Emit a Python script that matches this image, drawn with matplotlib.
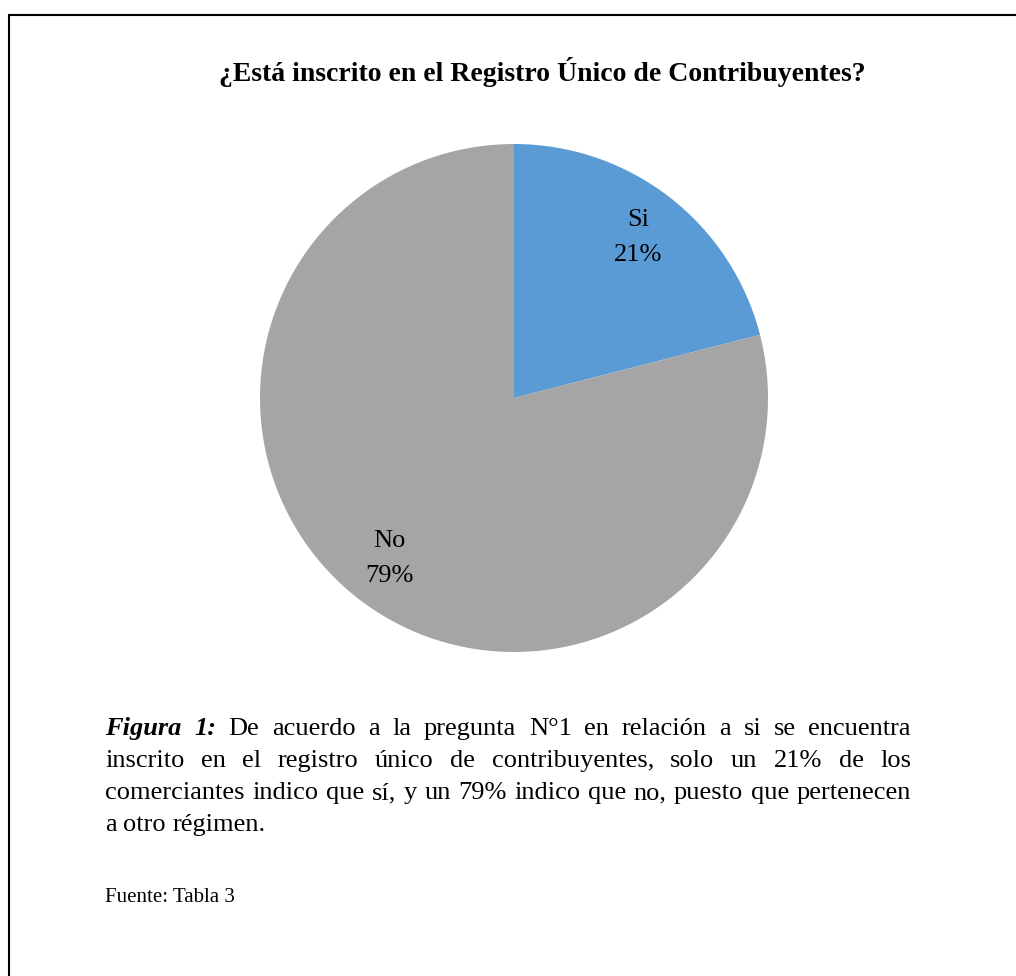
import matplotlib
matplotlib.use("Agg")
import matplotlib.pyplot as plt
from matplotlib.patches import Rectangle

# data
categorias = ["Si", "No"]
porcentajes = [21, 79]
colores = ["#5B9BD5", "#A5A5A5"]

titulo = "¿Está inscrito en el Registro Único de Contribuyentes?"
lineas = [
    "De acuerdo a la pregunta N°1 en relación a si se encuentra",
    "inscrito en el registro único de contribuyentes, solo un 21% de los",
    "comerciantes indico que sí, y un 79% indico que no, puesto que pertenecen",
    "a otro régimen.",
]
fuente = "Fuente: Tabla 3"

W, H = 1016, 976
plt.rcParams['font.family'] = ['Liberation Serif', 'DejaVu Serif']
fig = plt.figure(figsize=(W / 100, H / 100), dpi=100)

# marco
fig.patches.append(Rectangle((9 / W, -0.05), 1.2, 1 - 15 / H + 0.05, transform=fig.transFigure,
                             fill=False, edgecolor="black", linewidth=1.5))

fig.text(542 / W, 1 - 81 / H, titulo, ha="center", va="baseline", fontsize=20, fontweight="bold")

ax = fig.add_axes([260 / W, 1 - 652 / H, 508 / W, 508 / H])
etiquetas = [f"{c}\n{p}%" for c, p in zip(categorias, porcentajes)]
wedges, textos = ax.pie(porcentajes, colors=colores, startangle=90, counterclock=False,
                        labels=etiquetas, labeldistance=0.8,
                        textprops=dict(fontsize=19, ha="center", va="center", linespacing=1.75))
ax.set_aspect("equal")
ax.set_xlim(-1, 1)
ax.set_ylim(-1, 1)

# texto justificado
fig.canvas.draw()
r = fig.canvas.get_renderer()
x0, x1 = 105, 911
ys = [735, 767, 799, 831]
fs = 19


def ancho(t, **kw):
    tt = fig.text(0, 0, t, fontsize=fs, **kw)
    w = tt.get_window_extent(r).width
    tt.remove()
    return w


for i, (linea, y) in enumerate(zip(lineas, ys)):
    palabras = [(p, {}) for p in linea.split(" ")]
    if i == 0:
        palabras = [("Figura", dict(fontweight="bold", style="italic")),
                    ("1:", dict(fontweight="bold", style="italic"))] + palabras
    anchos = [ancho(p, **kw) for p, kw in palabras]
    if i < len(lineas) - 1:
        gap = (x1 - x0 - sum(anchos)) / (len(palabras) - 1)
    else:
        gap = ancho("a b") - ancho("a") - ancho("b")
    x = x0
    for (p, kw), w in zip(palabras, anchos):
        fig.text(x / W, 1 - y / H, p, fontsize=fs, va="baseline", ha="left", **kw)
        x += w + gap

fig.text(x0 / W, 1 - 902 / H, fuente, fontsize=15, va="baseline", ha="left")

fig.savefig("out.png", dpi=100)
